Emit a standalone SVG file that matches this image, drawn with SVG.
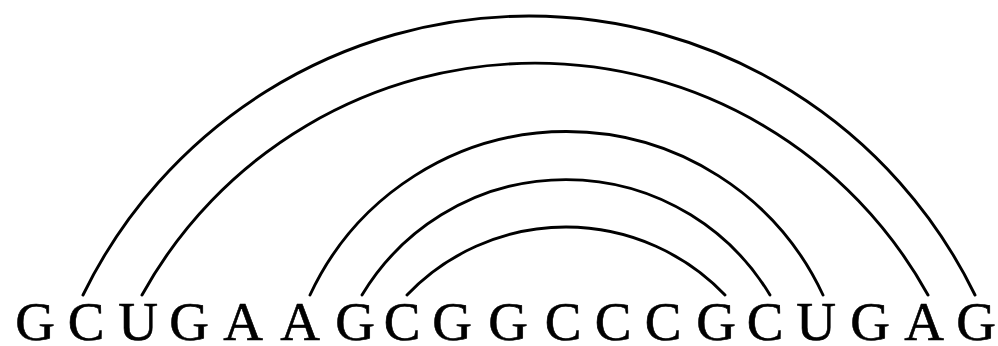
<svg xmlns="http://www.w3.org/2000/svg" width="998" height="346" viewBox="0 0 998 346">
<style>
.arc{fill:none;stroke:#000;stroke-width:2.9;stroke-linecap:round}
.b{font-family:"Liberation Serif","Times New Roman",serif;font-size:55px;fill:#000;stroke:#000;stroke-width:0.6;text-anchor:middle}
</style>
<rect width="998" height="346" fill="#fff"/>
<g id="connectors">
<path class="arc" d="M83,295 A496,496 0 0 1 975,295"/>
<path class="arc" d="M142,295 A449,449 0 0 1 928,295"/>
<path class="arc" d="M310,295 A283,283 0 0 1 823,295"/>
<path class="arc" d="M362,295 A238,238 0 0 1 770,295"/>
<path class="arc" d="M407,295 A220,220 0 0 1 725,295"/>
</g>
<g id="n0"><text class="b" x="35" y="340">G</text></g>
<g id="n1"><text class="b" x="86" y="340">C</text></g>
<g id="n2"><text class="b" x="138" y="340">U</text></g>
<g id="n3"><text class="b" x="189" y="340">G</text></g>
<g id="n4"><text class="b" x="243" y="340">A</text></g>
<g id="n5"><text class="b" x="300" y="340">A</text></g>
<g id="n6"><text class="b" x="355" y="340">G</text></g>
<g id="n7"><text class="b" x="402" y="340">C</text></g>
<g id="n8"><text class="b" x="452" y="340">G</text></g>
<g id="n9"><text class="b" x="508" y="340">G</text></g>
<g id="n10"><text class="b" x="563" y="340">C</text></g>
<g id="n11"><text class="b" x="613" y="340">C</text></g>
<g id="n12"><text class="b" x="663" y="340">C</text></g>
<g id="n13"><text class="b" x="716" y="340">G</text></g>
<g id="n14"><text class="b" x="765" y="340">C</text></g>
<g id="n15"><text class="b" x="816" y="340">U</text></g>
<g id="n16"><text class="b" x="870" y="340">G</text></g>
<g id="n17"><text class="b" x="924" y="340">A</text></g>
<g id="n18"><text class="b" x="976" y="340">G</text></g>
</svg>
